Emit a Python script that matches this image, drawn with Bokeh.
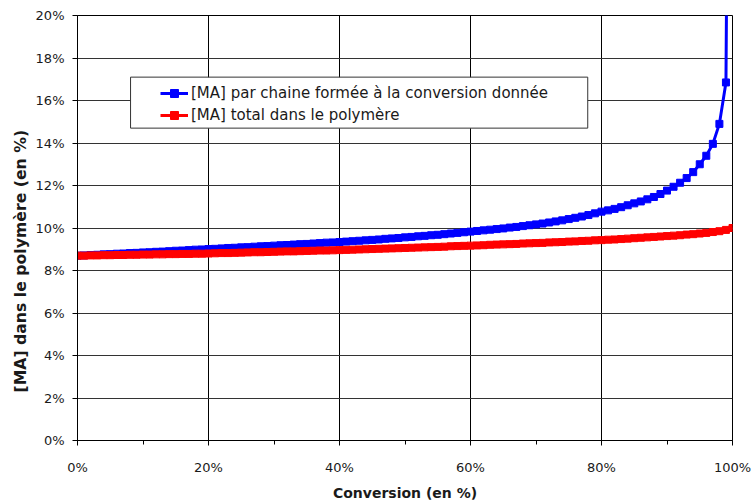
from bokeh.plotting import figure
from bokeh.models import (Range1d, SingleIntervalTicker, PrintfTickFormatter,
                          Legend, LegendItem, BoxAnnotation, Title)
from bokeh.embed import file_html
from bokeh.resources import INLINE

# Conversion (%) : one point per percent
conversion = list(range(0, 101))

# [MA] per chain formed at the given conversion (instantaneous, %)
ma_instant = [
    8.70, 8.71, 8.73, 8.74, 8.76, 8.77, 8.79, 8.80, 8.82, 8.83,
    8.85, 8.86, 8.88, 8.89, 8.91, 8.93, 8.94, 8.96, 8.98, 8.99,
    9.01, 9.02, 9.04, 9.06, 9.07, 9.09, 9.10, 9.12, 9.14, 9.15,
    9.17, 9.19, 9.20, 9.22, 9.24, 9.25, 9.27, 9.29, 9.31, 9.32,
    9.34, 9.36, 9.38, 9.40, 9.42, 9.44, 9.46, 9.49, 9.51, 9.53,
    9.56, 9.58, 9.61, 9.63, 9.66, 9.68, 9.71, 9.74, 9.77, 9.80,
    9.83, 9.86, 9.89, 9.92, 9.95, 9.98, 10.02, 10.05, 10.09, 10.13,
    10.17, 10.21, 10.26, 10.31, 10.36, 10.42, 10.48, 10.54, 10.61, 10.69,
    10.77, 10.83, 10.90, 10.98, 11.07, 11.16, 11.25, 11.35, 11.46, 11.60,
    11.76, 11.94, 12.13, 12.35, 12.63, 13.00, 13.40, 13.96, 14.90, 16.85,
    60.0,
]

# total [MA] in the polymer (cumulative, %)
ma_total = [
    8.70, 8.70, 8.71, 8.71, 8.72, 8.72, 8.73, 8.73, 8.74, 8.74,
    8.75, 8.75, 8.76, 8.76, 8.77, 8.77, 8.78, 8.78, 8.79, 8.79,
    8.80, 8.81, 8.82, 8.82, 8.83, 8.84, 8.85, 8.86, 8.86, 8.87,
    8.88, 8.89, 8.90, 8.90, 8.91, 8.92, 8.93, 8.94, 8.94, 8.95,
    8.96, 8.97, 8.98, 8.99, 9.00, 9.01, 9.02, 9.03, 9.04, 9.05,
    9.06, 9.07, 9.08, 9.09, 9.10, 9.11, 9.12, 9.14, 9.15, 9.16,
    9.17, 9.18, 9.19, 9.21, 9.22, 9.23, 9.24, 9.25, 9.27, 9.28,
    9.29, 9.30, 9.32, 9.33, 9.34, 9.36, 9.37, 9.39, 9.40, 9.42,
    9.43, 9.45, 9.46, 9.48, 9.50, 9.52, 9.54, 9.56, 9.58, 9.60,
    9.62, 9.64, 9.66, 9.69, 9.71, 9.74, 9.77, 9.81, 9.85, 9.91,
    10.00,
]

label_instant = "[MA] par chaine formée à la conversion donnée"
label_total = "[MA] total dans le polymère"
x_title = "Conversion (en %)"
y_title = "[MA] dans le polymère (en %)"

FONT = "DejaVu Sans"

p = figure(width=751, height=503, output_backend="svg", toolbar_location=None,
           x_range=Range1d(0, 100), y_range=Range1d(0, 20),
           min_border_left=77, min_border_right=19, min_border_top=15,
           min_border_bottom=61)
p.background_fill_color = "white"
p.border_fill_color = "white"
p.outline_line_color = "black"
p.outline_line_width = 1

# axes
p.xaxis.ticker = SingleIntervalTicker(interval=20, num_minor_ticks=2)
p.yaxis.ticker = SingleIntervalTicker(interval=2, num_minor_ticks=0)
p.xaxis.formatter = PrintfTickFormatter(format="%d%%")
p.yaxis.formatter = PrintfTickFormatter(format="%d%%")
for ax in (p.xaxis[0], p.yaxis[0]):
    ax.axis_line_color = "black"
    ax.major_tick_line_color = "black"
    ax.minor_tick_line_color = "black"
    ax.major_tick_in = 0
    ax.major_tick_out = 5
    ax.minor_tick_in = 0
    ax.minor_tick_out = 4
    ax.major_label_text_font = FONT
    ax.major_label_text_font_size = "13px"
    ax.major_label_text_color = "#1a1a1a"
    ax.axis_label_text_font = FONT
    ax.axis_label_text_font_style = "bold"
    ax.axis_label_text_color = "#1a1a1a"
p.xaxis.axis_label = x_title
p.xaxis.axis_label_text_font_size = "14px"
p.xaxis.major_label_standoff = 14
p.yaxis.major_label_standoff = 8
p.xaxis.axis_label_standoff = 7

# y title as a side title, starting above the frame's bottom as in the original
ytitle = Title(text=y_title, align="left", offset=48,
               text_font=FONT, text_font_size="15.7px", text_font_style="bold",
               text_color="#1a1a1a", standoff=6)
p.add_layout(ytitle, "left")

# grid
p.xgrid.grid_line_color = "black"
p.xgrid.grid_line_width = 1
p.ygrid.grid_line_color = "#333333"
p.ygrid.grid_line_width = 1

# series
bl = p.line(conversion, ma_instant, line_color="#0000FF", line_width=3)
bs = p.scatter(conversion, ma_instant, marker="square", size=7,
               fill_color="#0000FF", line_color="#0000FF")
rl = p.line(conversion, ma_total, line_color="#FF0000", line_width=3)
rs = p.scatter(conversion, ma_total, marker="square", size=7,
               fill_color="#FF0000", line_color="#FF0000")

# legend frame
box = BoxAnnotation(left=8.1, right=77.9, bottom=14.7, top=17.1,
                    fill_color="white", fill_alpha=1.0,
                    line_color="#333333", line_width=1, line_alpha=1.0)
p.add_layout(box)

legend = Legend(items=[LegendItem(label=label_instant, renderers=[bl, bs]),
                       LegendItem(label=label_total, renderers=[rl, rs])],
                location=(83, 315), padding=0, margin=0, spacing=2,
                glyph_width=28, glyph_height=20, label_height=20,
                label_standoff=3,
                label_text_font=FONT, label_text_font_size="15px",
                label_text_color="#1a1a1a",
                border_line_alpha=0, background_fill_alpha=0)
p.add_layout(legend)

open("out.html", "w").write(file_html(p, INLINE))
